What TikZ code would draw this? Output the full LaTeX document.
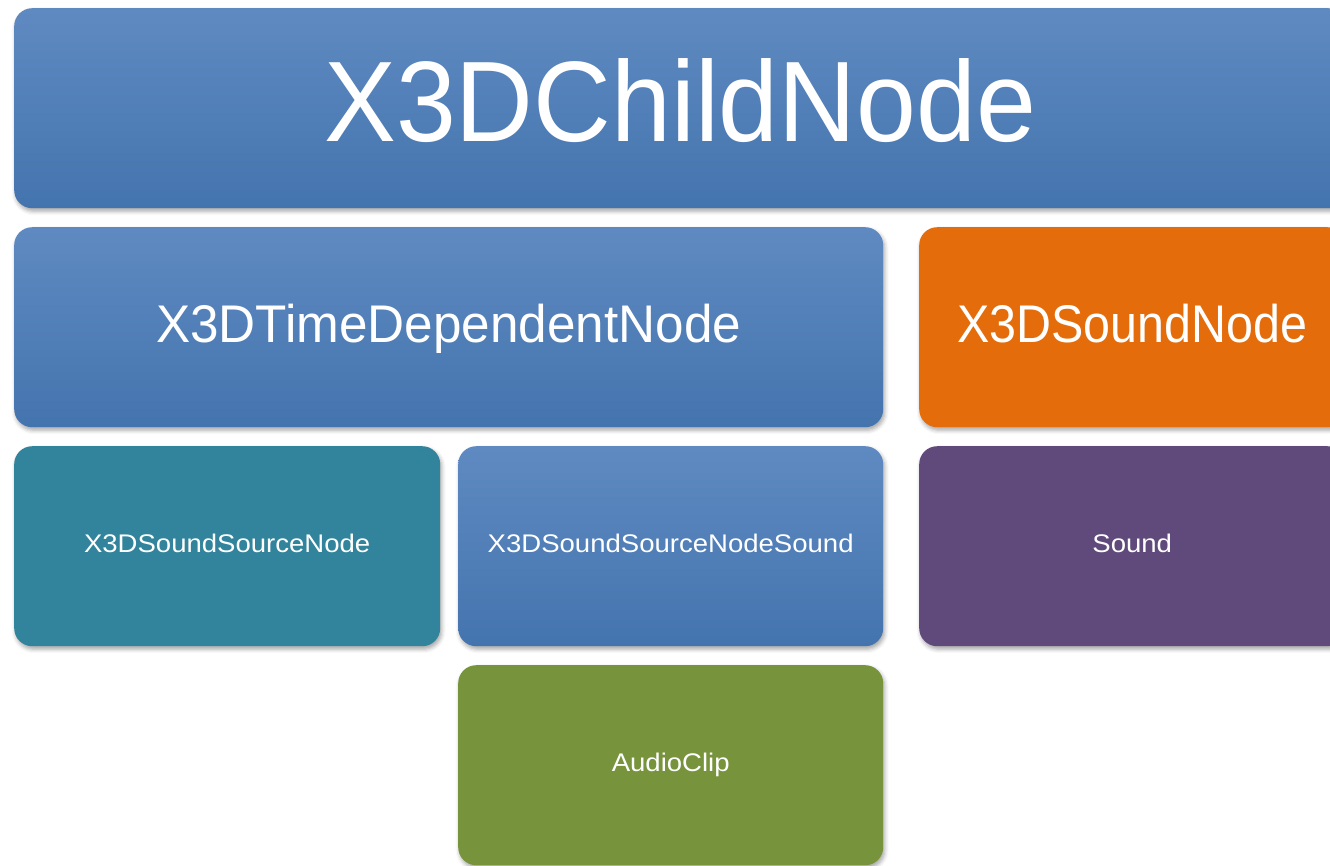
\documentclass[tikz,border=0pt]{standalone}
\usepackage{fontspec}
\setmainfont{Liberation Sans}
\newfontfamily\smallfont[FakeStretch=1.08]{Liberation Sans}
\newfontfamily\midfont[FakeStretch=0.967]{Liberation Sans}
\newfontfamily\midnarrowfont[FakeStretch=0.914]{Liberation Sans}
\newfontfamily\bigfont[FakeStretch=0.94]{Liberation Sans}
\usetikzlibrary{shadows.blur}

\definecolor{blueTop}{HTML}{5F8AC1}
\definecolor{blueBottom}{HTML}{4474AE}
\definecolor{tealFill}{HTML}{31849B}
\definecolor{orangeFill}{HTML}{E46C0A}
\definecolor{purpleFill}{HTML}{604A7B}
\definecolor{greenFill}{HTML}{77933C}

\begin{document}
\begin{tikzpicture}[x=1pt, y=-1pt,
  every node/.style = {shape=rectangle, rounded corners=18pt,
    text=white, align=center, inner sep=0pt, anchor=north west,
    minimum width=426pt, minimum height=200pt,
    blur shadow={shadow xshift=1.5pt, shadow yshift=-3pt,
      shadow opacity=35, shadow blur radius=4pt}},
  bluebox/.style = {top color=blueTop, bottom color=blueBottom},
  level1/.style = {font=\bigfont\fontsize{114.5}{115}\selectfont, text depth=16pt},
  level2/.style = {font=\midfont\fontsize{53}{53}\selectfont, text depth=7pt},
  level3/.style = {font=\smallfont\fontsize{25.5}{26}\selectfont, text depth=5pt}]
  \useasboundingbox (0,0) rectangle (1330,865);
  % top row
  \node[bluebox, level1, minimum width=1332pt] (childnode) at (14,8) {X3DChildNode};
  % second row
  \node[bluebox, level2, minimum width=869pt] (timedependent) at (14,227) {X3DTimeDependentNode};
  \node[fill=orangeFill, level2, font=\midnarrowfont\fontsize{53}{53}\selectfont] (soundnode) at (919,227) {X3DSoundNode};
  % third row
  \node[fill=tealFill, level3] (soundsource) at (14,446) {X3DSoundSourceNode};
  \node[bluebox, level3, minimum width=425pt] (soundsourcesound) at (458,446) {X3DSoundSourceNodeSound};
  \node[fill=purpleFill, level3] (sound) at (919,446) {Sound};
  % bottom row
  \node[fill=greenFill, level3, minimum width=425pt] (audioclip) at (458,665) {AudioClip};
\end{tikzpicture}
\end{document}
